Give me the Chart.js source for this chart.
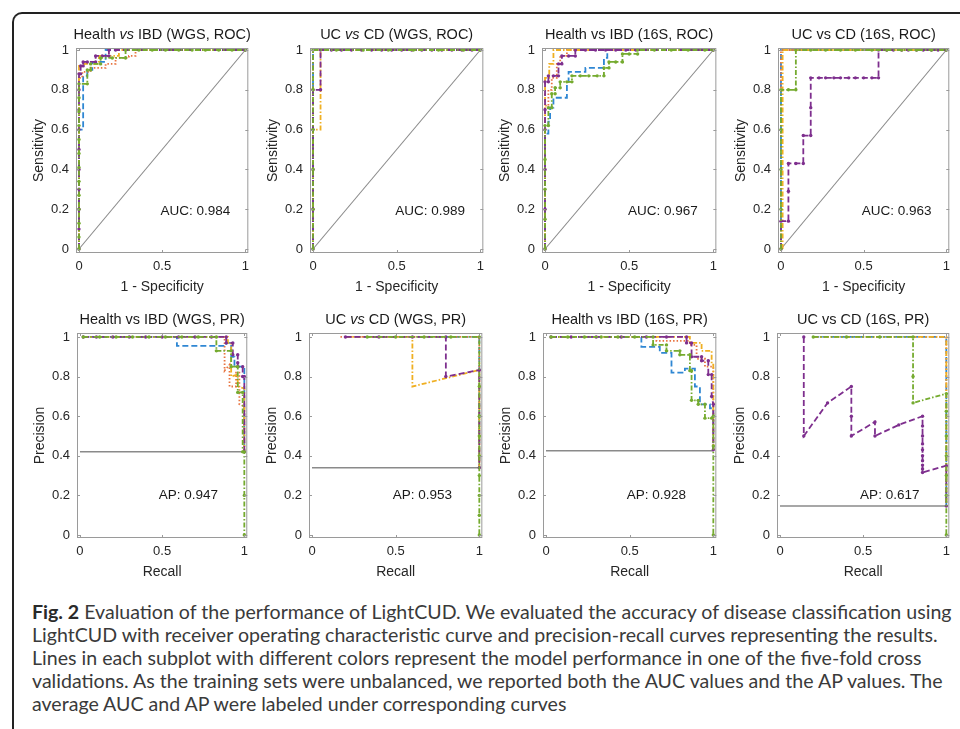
<!DOCTYPE html>
<html>
<head>
<meta charset="utf-8">
<script src="https://cdn.jsdelivr.net/npm/chart.js@4.4.0/dist/chart.umd.min.js"></script>
<style>
  body { margin: 0; width: 960px; height: 729px; overflow: hidden; background: #fff; position: relative; }
  .frame { position: absolute; left: 12px; top: 12px; width: 1000px; height: 800px;
           border-top: 2px solid #222; border-left: 2px solid #222; border-top-left-radius: 10px; }
  canvas { position: absolute; }
  #caption { position: absolute; left: 32px; top: 600px; font-family: Lato, "Open Sans", sans-serif;
             font-size: 17px; line-height: 23px; color: #3a3a3a; white-space: nowrap; }
  #caption b { color: #2a2a2a; }
</style>
</head>
<body>
<div class="frame"></div>
<canvas id="p1"></canvas><canvas id="p2"></canvas><canvas id="p3"></canvas><canvas id="p4"></canvas>
<canvas id="p5"></canvas><canvas id="p6"></canvas><canvas id="p7"></canvas><canvas id="p8"></canvas>
<div id="caption">
  <div><span id="line1"><b>Fig. 2</b> Evaluation of the performance of LightCUD. We evaluated the accuracy of disease classification using</span></div>
  <div>LightCUD with receiver operating characteristic curve and precision-recall curves representing the results.</div>
  <div>Lines in each subplot with different colors represent the model performance in one of the five-fold cross</div>
  <div>validations. As the training sets were unbalanced, we reported both the AUC values and the AP values. The</div>
  <div>average AUC and AP were labeled under corresponding curves</div>
</div>
<script>
// tick values
const xTicks = [0, 0.5, 1];
const yTicks = [0, 0.2, 0.4, 0.6, 0.8, 1];

// ---- Health vs IBD (WGS, ROC) ----
const p1Blue = [[0,0],[0,0.6],[0.025,0.6],[0.025,0.87],[0.05,0.87],[0.05,0.9],[0.08,0.9],[0.08,0.94],[0.16,0.94],[0.16,1],[1,1]];
const p1Orange = [[0,0],[0,0.86],[0.02,0.86],[0.02,0.89],[0.07,0.89],[0.07,0.91],[0.16,0.91],[0.16,0.93],[0.22,0.93],[0.22,0.96],[0.3,0.96],[0.3,0.97],[0.34,0.97],[0.34,1],[1,1]];
const p1Yellow = [[0,0],[0,0.92],[0.03,0.92],[0.03,0.93],[0.12,0.93],[0.12,0.97],[0.24,0.97],[0.24,1],[1,1]];
const p1Purple = [[0,0],[0,0.1],[0,0.2],[0,0.3],[0,0.4],[0,0.5],[0,0.6],[0,0.7],[0,0.8],[0,0.88],[0.01,0.88],[0.01,0.92],[0.025,0.92],[0.025,0.94],[0.05,0.94],[0.1,0.94],[0.1,0.97],[0.14,0.97],[0.18,0.97],[0.18,1],[0.22,1],[1,1]];
const p1Green = [[0,0],[0,0.06],[0,0.13],[0,0.2],[0,0.27],[0,0.34],[0,0.41],[0,0.48],[0,0.55],[0,0.62],[0,0.69],[0,0.76],[0,0.83],[0.05,0.83],[0.05,0.9],[0.07,0.9],[0.07,0.93],[0.13,0.93],[0.13,0.96],[0.2,0.96],[0.28,0.96],[0.28,1],[0.36,1],[0.44,1],[0.52,1],[0.6,1],[0.68,1],[0.76,1],[0.84,1],[0.92,1],[1,1]];

// ---- UC vs CD (WGS, ROC) ----
const p2Blue = [[0,0],[0,1],[1,1]];
const p2Orange = [[0,0],[0,1],[1,1]];
const p2Yellow = [[0,0],[0,0.6],[0.045,0.6],[0.045,1],[1,1]];
const p2Purple = [[0,0],[0,0.2],[0,0.4],[0,0.6],[0,0.8],[0.045,0.8],[0.045,1],[0.11,1],[0.17,1],[0.23,1],[0.29,1],[0.35,1],[0.41,1],[0.47,1],[0.53,1],[0.59,1],[0.65,1],[0.71,1],[0.77,1],[0.83,1],[0.89,1],[0.95,1],[1,1]];
const p2Green = [[0,0],[0,0.2],[0,0.4],[0,0.6],[0,0.8],[0,1],[0.14,1],[0.3,1],[0.45,1],[0.6,1],[0.75,1],[0.9,1],[1,1]];

// ---- Health vs IBD (16S, ROC) ----
const p3Blue = [[0,0],[0,0.58],[0.02,0.58],[0.02,0.64],[0.03,0.64],[0.03,0.71],[0.05,0.71],[0.05,0.76],[0.13,0.76],[0.13,0.84],[0.14,0.84],[0.14,0.89],[0.24,0.89],[0.24,0.91],[0.35,0.91],[0.35,0.96],[0.37,0.96],[0.37,1],[1,1]];
const p3Orange = [[0,0],[0,0.72],[0.02,0.72],[0.02,0.8],[0.04,0.8],[0.04,0.86],[0.07,0.86],[0.07,0.93],[0.09,0.93],[0.09,0.97],[0.13,0.97],[0.13,1],[1,1]];
const p3Yellow = [[0,0],[0,0.86],[0.025,0.86],[0.025,0.93],[0.05,0.93],[0.05,1],[1,1]];
const p3Purple = [[0,0],[0,0.2],[0,0.4],[0,0.6],[0,0.7],[0,0.84],[0.02,0.84],[0.02,0.87],[0.05,0.87],[0.08,0.87],[0.08,0.93],[0.1,0.93],[0.1,0.97],[0.14,0.97],[0.18,0.97],[0.18,1],[0.24,1],[0.3,1],[0.36,1],[0.42,1],[0.48,1],[0.54,1],[1,1]];
const p3Green = [[0,0],[0,0.15],[0,0.3],[0,0.45],[0,0.62],[0.02,0.62],[0.02,0.71],[0.04,0.71],[0.04,0.78],[0.06,0.78],[0.06,0.81],[0.09,0.81],[0.09,0.84],[0.13,0.84],[0.16,0.84],[0.16,0.87],[0.21,0.87],[0.26,0.87],[0.31,0.87],[0.35,0.87],[0.35,0.91],[0.38,0.91],[0.38,0.94],[0.42,0.94],[0.46,0.94],[0.46,0.98],[0.5,0.98],[0.55,0.98],[0.55,1],[0.65,1],[0.75,1],[0.85,1],[0.95,1],[1,1]];

// ---- UC vs CD (16S, ROC) ----
const p4Blue = [[0,0],[0,1],[1,1]];
const p4Orange = [[0,0],[0,1],[1,1]];
const p4Yellow = [[0.01,0],[0.01,1],[1,1]];
const p4Purple = [[0,0],[0,0.14],[0.045,0.14],[0.045,0.29],[0.045,0.43],[0.09,0.43],[0.135,0.43],[0.135,0.57],[0.18,0.57],[0.18,0.71],[0.18,0.86],[0.23,0.86],[0.27,0.86],[0.32,0.86],[0.36,0.86],[0.41,0.86],[0.45,0.86],[0.5,0.86],[0.55,0.86],[0.59,0.86],[0.59,1],[0.64,1],[0.68,1],[0.73,1],[0.77,1],[0.82,1],[0.86,1],[0.91,1],[0.95,1],[1,1]];
const p4Green = [[0,0],[0,0.2],[0,0.4],[0,0.6],[0,0.8],[0.045,0.8],[0.09,0.8],[0.09,1],[0.18,1],[0.27,1],[0.36,1],[0.45,1],[0.55,1],[0.64,1],[0.73,1],[0.82,1],[0.91,1],[1,1]];

// ---- Health vs IBD (WGS, PR) ----
const p5Blue = [[0.02,1],[0.59,1],[0.59,0.955],[0.89,0.955],[0.89,0.97],[0.92,0.97],[0.92,0.9],[0.94,0.9],[0.94,0.85],[1,0.85],[1,0.42]];
const p5Orange = [[0.02,1],[0.88,1],[0.88,0.83],[0.91,0.86],[0.91,0.75],[0.95,0.75],[0.95,0.82],[0.97,0.82],[0.97,0.66],[1,0.65],[1,0.42]];
const p5Yellow = [[0.02,1],[0.9,1],[0.9,0.97],[0.92,0.97],[0.92,0.8],[0.96,0.81],[0.96,0.75],[1,0.74],[1,0.42]];
const p5Purple = [[0.02,1],[0.1,1],[0.2,1],[0.3,1],[0.4,1],[0.5,1],[0.6,1],[0.7,1],[0.8,1],[0.89,1],[0.89,0.97],[0.93,0.97],[0.93,0.91],[0.96,0.91],[0.96,0.87],[0.96,0.85],[0.99,0.85],[0.99,0.8],[1,0.8],[1,0.42]];
const p5Green = [[0.02,1],[0.12,1],[0.22,1],[0.32,1],[0.42,1],[0.52,1],[0.62,1],[0.72,1],[0.83,1],[0.83,0.93],[0.92,0.93],[0.92,0.85],[0.96,0.85],[0.96,0.72],[0.99,0.72],[0.99,0.42],[1,0.42],[1,0.2],[1,0]];

// ---- UC vs CD (WGS, PR) ----
const p6Blue = [[0.2,1],[1,1],[1,0.34]];
const p6Orange = [[0.17,1],[1,1],[1,0.34]];
const p6Yellow = [[0.2,1],[0.6,1],[0.6,0.75],[1,0.833],[1,0.34]];
const p6Purple = [[0.2,1],[0.4,1],[0.6,1],[0.8,1],[0.8,0.8],[1,0.833],[1,0.34]];
const p6Green = [[0.33,1],[0.5,1],[0.67,1],[0.83,1],[1,1],[1,0.75],[1,0.6],[1,0.5],[1,0.4],[1,0.3],[1,0.2],[1,0.1],[1,0]];

// ---- Health vs IBD (16S, PR) ----
const p7Blue = [[0.03,1],[0.57,1],[0.57,0.95],[0.68,0.95],[0.68,0.92],[0.75,0.92],[0.75,0.82],[0.83,0.82],[0.83,0.84],[0.89,0.84],[0.89,0.75],[0.92,0.75],[0.92,0.66],[0.98,0.66],[0.98,0.64],[1,0.64],[1,0.43]];
const p7Orange = [[0.03,1],[0.66,1],[0.66,0.98],[0.86,0.98],[0.86,0.96],[0.9,0.96],[0.9,0.89],[0.95,0.89],[0.95,0.85],[1,0.85],[1,0.43]];
const p7Yellow = [[0.03,1],[0.86,1],[0.86,0.97],[0.93,0.97],[0.93,0.93],[0.99,0.93],[0.99,0.86],[1,0.86],[1,0.43]];
const p7Purple = [[0.03,1],[0.15,1],[0.3,1],[0.45,1],[0.6,1],[0.72,1],[0.84,1],[0.84,0.97],[0.87,0.97],[0.87,0.9],[0.93,0.9],[0.93,0.88],[0.97,0.88],[0.97,0.81],[0.99,0.81],[0.99,0.7],[1,0.66],[1,0.43]];
const p7Green = [[0.03,1],[0.13,1],[0.23,1],[0.33,1],[0.43,1],[0.53,1],[0.64,1],[0.64,0.96],[0.72,0.96],[0.72,0.93],[0.8,0.93],[0.8,0.91],[0.86,0.91],[0.86,0.83],[0.87,0.83],[0.87,0.68],[0.91,0.68],[0.91,0.66],[0.95,0.66],[0.95,0.59],[0.99,0.59],[1,0.6],[1,0.45],[1,0]];

// ---- UC vs CD (16S, PR) ----
const p8Blue = [[0.2,1],[1,1],[1,0.146]];
const p8Orange = [[0.2,1],[1,1],[1,0.146]];
const p8Yellow = [[0.2,1],[1,1],[1,0.146]];
const p8Purple = [[0.143,1],[0.143,0.5],[0.286,0.667],[0.429,0.75],[0.429,0.6],[0.429,0.5],[0.571,0.571],[0.571,0.5],[0.714,0.556],[0.857,0.6],[0.857,0.55],[0.857,0.5],[0.857,0.46],[0.857,0.43],[0.857,0.4],[0.857,0.375],[0.857,0.353],[0.857,0.333],[0.857,0.316],[1,0.35],[1,0.146]];
const p8Green = [[0.2,1],[0.4,1],[0.6,1],[0.8,1],[0.8,0.8],[0.8,0.667],[1,0.714],[1,0.625],[1,0.5],[1,0.4],[1,0.3],[1,0.2],[1,0]];

// chance levels of PR panels, and summary values
const prBaselines = [0.42, 0.34, 0.425, 0.146];
const aucValues = ['0.984', '0.989', '0.967', '0.963'];
const apValues = ['0.947', '0.953', '0.928', '0.617'];

const foldStyles = [
  { color: '#2f87d3', dash: [6, 3], radius: 0 },
  { color: '#e8733f', dash: [1.5, 2], radius: 0 },
  { color: '#efaf22', dash: [5, 2, 1.5, 2], radius: 0 },
  { color: '#7e2f8e', dash: [6, 3], radius: 1.7 },
  { color: '#75ab2f', dash: [5, 2, 1.5, 2], radius: 1.7 }
];

const FONT = '"Liberation Sans", Arial, sans-serif';

const panelDecor = {
  id: 'panelDecor',
  afterDatasetsDraw(chart, args, opts) {
    const { ctx, chartArea: a, scales: { x, y } } = chart;
    ctx.save();
    ctx.setLineDash([]);
    // summary text
    ctx.fillStyle = '#1a1a1a';
    ctx.font = '13.5px ' + FONT;
    ctx.textAlign = 'center';
    ctx.textBaseline = 'middle';
    ctx.fillText(opts.note, x.getPixelForValue(opts.noteAt[0]), y.getPixelForValue(opts.noteAt[1]));
    // axes box with inward ticks
    ctx.strokeStyle = '#9a9a9a';
    ctx.lineWidth = 1;
    ctx.strokeRect(a.left + 0.5, a.top + 0.5, a.width - 1, a.height - 1);
    ctx.beginPath();
    x.ticks.forEach(t => {
      const px = Math.round(x.getPixelForValue(t.value)) + 0.5;
      ctx.moveTo(px, a.bottom); ctx.lineTo(px, a.bottom - 3);
      ctx.moveTo(px, a.top); ctx.lineTo(px, a.top + 3);
    });
    y.ticks.forEach(t => {
      const py = Math.round(y.getPixelForValue(t.value)) + 0.5;
      ctx.moveTo(a.left, py); ctx.lineTo(a.left + 3, py);
      ctx.moveTo(a.right, py); ctx.lineTo(a.right - 3, py);
    });
    ctx.stroke();
    // title with italic "vs" where the original uses it
    ctx.fillStyle = '#1a1a1a';
    ctx.textAlign = 'left';
    const parts = opts.title;
    const fonts = parts.map(p => (p[1] ? 'italic ' : '') + '14.5px ' + FONT);
    let total = 0;
    parts.forEach((p, i) => { ctx.font = fonts[i]; total += ctx.measureText(p[0]).width; });
    let tx = (a.left + a.right) / 2 - total / 2;
    parts.forEach((p, i) => {
      ctx.font = fonts[i];
      ctx.fillText(p[0], tx, a.top - 13);
      tx += ctx.measureText(p[0]).width;
    });
    ctx.restore();
  }
};

const toXY = arr => arr.map(p => ({ x: p[0], y: p[1] }));

const panels = [
  { id: 'p1', area: [76, 48, 251, 253], title: [['Health ', false], ['vs', true], [' IBD (WGS, ROC)', false]], curves: [p1Blue, p1Orange, p1Yellow, p1Purple, p1Green], kind: 'roc', k: 0 },
  { id: 'p2', area: [310, 48, 486, 253], title: [['UC ', false], ['vs', true], [' CD (WGS, ROC)', false]], curves: [p2Blue, p2Orange, p2Yellow, p2Purple, p2Green], kind: 'roc', k: 1 },
  { id: 'p3', area: [542, 48, 719, 253], title: [['Health vs IBD (16S, ROC)', false]], curves: [p3Blue, p3Orange, p3Yellow, p3Purple, p3Green], kind: 'roc', k: 2 },
  { id: 'p4', area: [778, 48, 952, 253], title: [['UC vs CD (16S, ROC)', false]], curves: [p4Blue, p4Orange, p4Yellow, p4Purple, p4Green], kind: 'roc', k: 3 },
  { id: 'p5', area: [77, 333, 250, 538], title: [['Health vs IBD (WGS, PR)', false]], curves: [p5Blue, p5Orange, p5Yellow, p5Purple, p5Green], kind: 'pr', k: 0 },
  { id: 'p6', area: [309, 333, 485, 538], title: [['UC ', false], ['vs', true], [' CD (WGS, PR)', false]], curves: [p6Blue, p6Orange, p6Yellow, p6Purple, p6Green], kind: 'pr', k: 1 },
  { id: 'p7', area: [543, 333, 719, 538], title: [['Health vs IBD (16S, PR)', false]], curves: [p7Blue, p7Orange, p7Yellow, p7Purple, p7Green], kind: 'pr', k: 2 },
  { id: 'p8', area: [777, 333, 952, 538], title: [['UC vs CD (16S, PR)', false]], curves: [p8Blue, p8Orange, p8Yellow, p8Purple, p8Green], kind: 'pr', k: 3 }
];

const Y_AXIS_W = 50, X_AXIS_H = 45, PAD_TOP = 24, PAD_RIGHT = 4;

panels.forEach(p => {
  const [l, t, r, b] = p.area;
  const canvas = document.getElementById(p.id);
  canvas.width = (r - l) + Y_AXIS_W + PAD_RIGHT;
  canvas.height = (b - t) + PAD_TOP + X_AXIS_H;
  canvas.style.left = (l - Y_AXIS_W) + 'px';
  canvas.style.top = (t - PAD_TOP) + 'px';

  const isRoc = p.kind === 'roc';
  const refLine = isRoc ? [[0, 0], [1, 1]] : [[0, prBaselines[p.k]], [1, prBaselines[p.k]]];

  const datasets = p.curves.map((c, i) => ({
    data: toXY(c),
    showLine: true,
    borderColor: foldStyles[i].color,
    backgroundColor: foldStyles[i].color,
    borderWidth: 1.8,
    borderDash: foldStyles[i].dash,
    pointRadius: foldStyles[i].radius,
    pointBorderWidth: 0,
    pointBackgroundColor: foldStyles[i].color,
    order: 5 - i
  }));
  datasets.push({
    data: toXY(refLine),
    showLine: true,
    borderColor: '#8a8a8a',
    borderWidth: isRoc ? 1.1 : 1.5,
    pointRadius: 0,
    order: 10
  });

  new Chart(canvas.getContext('2d'), {
    type: 'scatter',
    data: { datasets },
    options: {
      responsive: false,
      animation: false,
      layout: { padding: { top: PAD_TOP, right: PAD_RIGHT, left: 0, bottom: 0 } },
      plugins: {
        legend: { display: false },
        tooltip: { enabled: false },
        panelDecor: {
          title: p.title,
          note: isRoc ? 'AUC: ' + aucValues[p.k] : 'AP: ' + apValues[p.k],
          noteAt: isRoc ? [0.7, 0.19] : [0.66, 0.2]
        }
      },
      scales: {
        x: {
          type: 'linear', min: -0.018, max: 1.018,
          grid: { display: false, drawTicks: false },
          border: { display: false },
          afterBuildTicks: s => { s.ticks = xTicks.map(v => ({ value: v })); },
          afterFit: s => { s.height = X_AXIS_H; },
          ticks: { padding: 6, color: '#262626', font: { size: 13, family: FONT }, maxRotation: 0, autoSkip: false, callback: v => String(v) },
          title: { display: true, text: isRoc ? '1 - Specificity' : 'Recall', color: '#262626', font: { size: 14, family: FONT }, padding: { top: 0, bottom: 2.6 } }
        },
        y: {
          type: 'linear',
          min: isRoc ? -0.02 : -0.015, max: isRoc ? 1.01 : 1.02,
          grid: { display: false, drawTicks: false },
          border: { display: false },
          afterBuildTicks: s => { s.ticks = yTicks.map(v => ({ value: v })); },
          afterFit: s => { s.width = Y_AXIS_W; },
          ticks: { padding: 7, color: '#262626', font: { size: 13, family: FONT }, autoSkip: false, callback: v => String(v) },
          title: { display: true, text: isRoc ? 'Sensitivity' : 'Precision', color: '#262626', font: { size: 14, family: FONT }, padding: { top: 4.6, bottom: 0 } }
        }
      }
    },
    plugins: [panelDecor]
  });
});

// fit the caption font so that the first line spans the same width as in the figure
const line1 = document.getElementById('line1');
const cap = document.getElementById('caption');
const w = line1.getBoundingClientRect().width;
if (w > 0) cap.style.fontSize = (17 * 920 / w).toFixed(2) + 'px';
</script>
</body>
</html>
